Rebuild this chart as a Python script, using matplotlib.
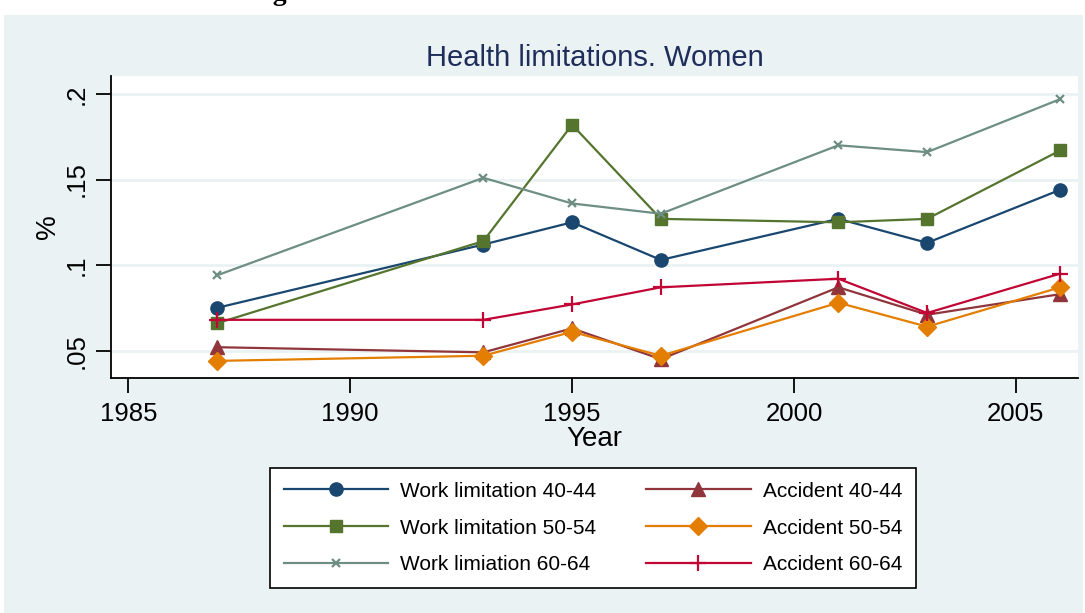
import matplotlib.pyplot as plt
from matplotlib.patches import Rectangle

plt.rcParams['font.family'] = ['Liberation Sans', 'DejaVu Sans']

# data
years = [1987, 1993, 1995, 1997, 2001, 2003, 2006]
work_40_44 = [0.075, 0.112, 0.125, 0.103, 0.127, 0.113, 0.144]
work_50_54 = [0.066, 0.114, 0.182, 0.127, 0.125, 0.127, 0.167]
work_60_64 = [0.094, 0.151, 0.136, 0.130, 0.170, 0.166, 0.197]
acc_40_44 = [0.052, 0.049, 0.063, 0.045, 0.087, 0.071, 0.083]
acc_50_54 = [0.044, 0.047, 0.061, 0.047, 0.078, 0.064, 0.087]
acc_60_64 = [0.068, 0.068, 0.077, 0.087, 0.092, 0.072, 0.095]

labels = ['Work limitation 40-44', 'Work limitation 50-54', 'Work limiation 60-64',
          'Accident 40-44', 'Accident 50-54', 'Accident 60-64']
xticks = [1985, 1990, 1995, 2000, 2005]
yticks = [0.05, 0.1, 0.15, 0.2]
ytick_labels = ['.05', '.1', '.15', '.2']

bg = '#EAF2F3'
W, H = 1085, 613
fig = plt.figure(figsize=(W / 100, H / 100), dpi=100, facecolor='white')

# cut-off caption from the page above the graph
fig.text(537 / W, 1.0, 'Figure 3. Evolution of health limitations. Women',
         ha='center', va='baseline', fontsize=20, fontweight='bold',
         family='Liberation Serif')

# stata graph region
fig.patches.append(Rectangle((4 / W, 0), (1083 - 4) / W, 1 - 15 / H,
                             transform=fig.transFigure, facecolor=bg,
                             edgecolor='none', zorder=-1))

ax = fig.add_axes([111 / W, 1 - 378 / H, (1078 - 111) / W, (378 - 76) / H])
ax.set_zorder(2)
ax.set_facecolor('white')

styles = [
    (work_40_44, '#1a476f', 'o', 9.5, 0),
    (work_50_54, '#55752f', 's', 9, 0),
    (work_60_64, '#6e8e84', 'x', 6, 1.6),
    (acc_40_44, '#90353b', '^', 10, 0),
    (acc_50_54, '#e37e00', 'D', 9, 0),
    (acc_60_64, '#c10534', '+', 11, 1.6),
]
for (vals, c, m, ms, mew), lab in zip(styles, labels):
    ax.plot(years, vals, color=c, marker=m, markersize=ms, lw=1.6,
            markeredgewidth=mew if mew else 1, markeredgecolor=c, label=lab)

ax.set_xlim(1984.61, 2006.4)
ax.set_ylim(0.034, 0.2105)
ax.set_xticks(xticks)
ax.set_yticks(yticks)
ax.set_yticklabels(ytick_labels, rotation=90, va='center')
ax.tick_params(axis='both', labelsize=18.5, length=11, width=1.3, direction='out')
ax.tick_params(axis='x', pad=6)
ax.tick_params(axis='y', pad=5)
ax.grid(axis='y', color=bg, lw=2)
ax.set_axisbelow(True)
for s in ['top', 'right']:
    ax.spines[s].set_visible(False)
for s in ['left', 'bottom']:
    ax.spines[s].set_linewidth(1.3)

ax.set_xlabel('Year', fontsize=20, labelpad=0)
ax.set_ylabel('%', fontsize=20, labelpad=3)
ax.set_title('Health limitations. Women', fontsize=21, color='#1f2d5a', pad=7)

leg = fig.legend(loc='center', bbox_to_anchor=(593 / W, 1 - 528 / H), ncol=2,
                 fontsize=15, frameon=True, fancybox=False, edgecolor='black',
                 framealpha=1, handlelength=5, handletextpad=0.6,
                 columnspacing=2.4, labelspacing=0.85, borderpad=0.65,
                 borderaxespad=0)
leg.get_frame().set_linewidth(1.2)

fig.savefig('out.png', dpi=100, facecolor='white')
